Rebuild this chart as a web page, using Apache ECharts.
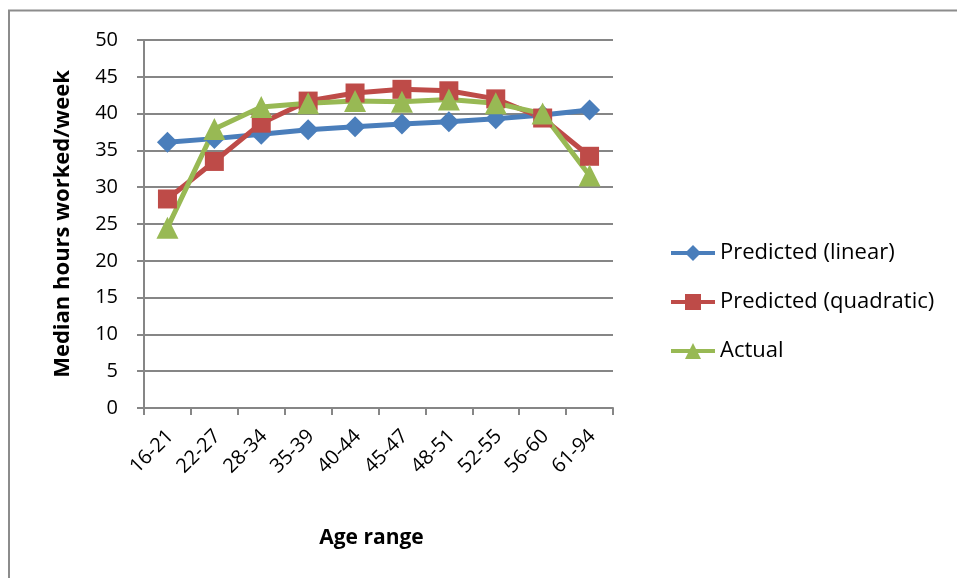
<!DOCTYPE html>
<html>
<head>
<meta charset="utf-8">
<script src="https://cdn.jsdelivr.net/npm/echarts@6/dist/echarts.min.js"></script>
<style>
  html, body { margin: 0; padding: 0; background: #ffffff; }
  #chart { width: 957px; height: 578px; }
</style>
</head>
<body>
<div id="chart"></div>
<script>
// Age groups along the horizontal axis
var ageRanges = ['16-21', '22-27', '28-34', '35-39', '40-44', '45-47', '48-51', '52-55', '56-60', '61-94'];

// Median weekly hours by age group
var predictedLinear    = [36.1, 36.6, 37.2, 37.8, 38.2, 38.6, 38.9, 39.3, 39.8, 40.5];
var predictedQuadratic = [28.4, 33.5, 38.7, 41.7, 42.8, 43.3, 43.1, 42.0, 39.4, 34.2];
var actualHours        = [24.5, 37.9, 40.9, 41.4, 41.7, 41.6, 41.9, 41.4, 40.0, 31.6];

var seriesNames = ['Predicted (linear)', 'Predicted (quadratic)', 'Actual'];
var yTicks = { min: 0, max: 50, interval: 5 };

var FONT = '"Open Sans", "Noto Sans", sans-serif';
var AXIS_GRAY = '#868686';

var chart = echarts.init(document.getElementById('chart'), null, { renderer: 'canvas' });

function lineSeries(name, data, color, symbol, size) {
  return {
    name: name,
    type: 'line',
    data: data,
    symbol: symbol,
    symbolSize: size,
    showSymbol: true,
    lineStyle: { color: color, width: 5 },
    itemStyle: { color: color },
    emphasis: { disabled: true },
    animation: false
  };
}

chart.setOption({
  backgroundColor: '#ffffff',
  animation: false,
  graphic: [{
    type: 'rect',
    shape: { x: 9, y: 10.5, width: 1000, height: 1000 },
    style: { fill: 'none', stroke: '#8c8c8c', lineWidth: 2 },
    silent: true
  }],
  grid: { left: 144, right: 344, top: 40, bottom: 170, containLabel: false },
  legend: {
    orient: 'vertical',
    left: 664,
    top: 237,
    itemWidth: 44,
    itemHeight: 20,
    itemGap: 27,
    lineStyle: { width: 4 },
    textStyle: { fontFamily: FONT, fontSize: 22, color: '#000000' },
    data: seriesNames
  },
  xAxis: {
    type: 'category',
    data: ageRanges,
    boundaryGap: true,
    name: 'Age range',
    nameLocation: 'middle',
    nameGap: 120,
    nameTextStyle: { fontFamily: FONT, fontSize: 21, fontWeight: 'bold', color: '#000000', padding: [0, 14, 0, 0] },
    axisLine: { lineStyle: { color: AXIS_GRAY, width: 2 } },
    axisTick: { show: true, length: 7, lineStyle: { color: AXIS_GRAY, width: 2 } },
    axisLabel: { rotate: 45, margin: 28, padding: [0, -4, 0, 0], fontFamily: FONT, fontSize: 20, color: '#000000', interval: 0 },
    splitLine: { show: false }
  },
  yAxis: {
    type: 'value',
    min: yTicks.min,
    max: yTicks.max,
    interval: yTicks.interval,
    name: 'Median hours worked/week',
    nameLocation: 'middle',
    nameGap: 70,
    nameRotate: 90,
    nameTextStyle: { fontFamily: FONT, fontSize: 22, fontWeight: 'bold', color: '#000000' },
    axisLine: { show: true, lineStyle: { color: AXIS_GRAY, width: 2 } },
    axisTick: { show: true, length: 7, lineStyle: { color: AXIS_GRAY, width: 2 } },
    axisLabel: { margin: 26, fontFamily: FONT, fontSize: 20, color: '#000000' },
    splitLine: { show: true, lineStyle: { color: AXIS_GRAY, width: 2 } }
  },
  series: [
    lineSeries(seriesNames[0], predictedLinear, '#4a7ebb', 'diamond', 21),
    lineSeries(seriesNames[1], predictedQuadratic, '#be4b48', 'rect', 19),
    lineSeries(seriesNames[2], actualHours, '#98b954', 'triangle', 22)
  ]
});
</script>
</body>
</html>
